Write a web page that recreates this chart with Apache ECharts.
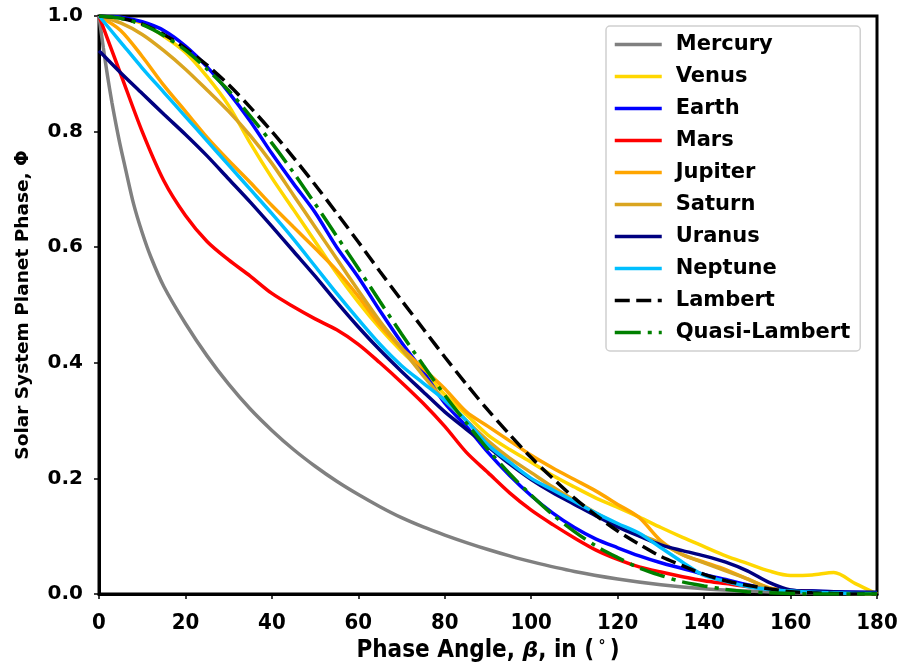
<!DOCTYPE html>
<html>
<head>
<meta charset="utf-8">
<script src="https://cdn.jsdelivr.net/npm/echarts@6/dist/echarts.min.js"></script>
<style>
  html, body { margin: 0; padding: 0; background: #fff; }
  #chart { width: 902px; height: 665px; }
</style>
</head>
<body>
<div id="chart"></div>
<script>
// Phase angle grid (degrees) shared by most curves
const angles = [0,5,10,15,20,25,30,35,40,45,50,55,60,65,70,75,80,85,90,95,100,105,110,115,120,125,130,135,140,145,150,155,160,165,170,175,180];

// Mercury drops steeply near zero, so it has its own finer grid
const mercuryAngles = [0,1,2,3,4,5,6,8,10,12,15,20,25,30,35,40,45,50,55,60,65,70,75,80,85,90,95,100,110,120,130,140,150,160,170,180];
const mercury = [1.0,0.945,0.895,0.85,0.81,0.773,0.74,0.675,0.625,0.583,0.532,0.468,0.412,0.363,0.32,0.283,0.25,0.221,0.195,0.172,0.151,0.132,0.116,0.102,0.089,0.077,0.066,0.056,0.039,0.026,0.016,0.009,0.005,0.002,0.001,0];

const venus   = [1.0,0.997,0.987,0.965,0.937,0.895,0.845,0.78,0.72,0.665,0.61,0.555,0.505,0.46,0.42,0.385,0.345,0.31,0.275,0.25,0.228,0.205,0.185,0.166,0.15,0.133,0.115,0.098,0.082,0.066,0.053,0.04,0.032,0.033,0.037,0.018,0];
const earth   = [1.0,0.998,0.99,0.975,0.948,0.912,0.868,0.818,0.762,0.71,0.66,0.60,0.548,0.49,0.435,0.385,0.33,0.29,0.245,0.205,0.17,0.14,0.115,0.095,0.08,0.066,0.054,0.044,0.034,0.025,0.016,0.009,0.006,0.005,0.004,0.003,0.002];
const mars    = [1.0,0.90,0.80,0.715,0.655,0.61,0.578,0.55,0.52,0.497,0.476,0.457,0.432,0.40,0.366,0.33,0.29,0.245,0.21,0.175,0.145,0.12,0.097,0.076,0.06,0.047,0.038,0.03,0.023,0.018,0.013,0.009,0.006,0.004,0.002,0.001,0];
const jupiter = [1.0,0.975,0.93,0.88,0.835,0.79,0.75,0.712,0.672,0.635,0.598,0.56,0.515,0.465,0.425,0.39,0.355,0.315,0.29,0.265,0.24,0.218,0.198,0.178,0.155,0.132,0.092,0.068,0.055,0.042,0.026,0.011,0.005,0.003,0.002,0.001,0];
const saturn  = [1.0,0.988,0.968,0.94,0.908,0.872,0.835,0.793,0.745,0.69,0.635,0.58,0.525,0.472,0.425,0.378,0.335,0.30,0.265,0.235,0.21,0.185,0.162,0.14,0.12,0.103,0.088,0.068,0.054,0.04,0.026,0.01,0.005,0.003,0.002,0.001,0];
const uranus  = [0.94,0.902,0.866,0.83,0.795,0.758,0.718,0.678,0.636,0.593,0.55,0.505,0.462,0.422,0.385,0.35,0.315,0.285,0.255,0.225,0.198,0.175,0.155,0.135,0.116,0.10,0.085,0.075,0.066,0.055,0.04,0.02,0.007,0.005,0.004,0.003,0.003];
const neptune = [1.0,0.955,0.91,0.868,0.826,0.784,0.742,0.70,0.658,0.614,0.567,0.52,0.475,0.432,0.395,0.365,0.335,0.30,0.258,0.228,0.20,0.18,0.16,0.14,0.122,0.105,0.08,0.055,0.032,0.022,0.013,0.008,0.005,0.003,0.002,0.001,0.001];
const lambert = [1.0,0.996,0.986,0.968,0.944,0.915,0.881,0.842,0.80,0.755,0.708,0.659,0.609,0.558,0.508,0.459,0.41,0.363,0.318,0.276,0.236,0.20,0.166,0.136,0.109,0.086,0.065,0.049,0.034,0.023,0.015,0.009,0.004,0.002,0.001,0,0];
const quasiLambert = [1.0,0.996,0.985,0.966,0.941,0.908,0.871,0.827,0.78,0.729,0.675,0.619,0.563,0.506,0.45,0.396,0.344,0.296,0.25,0.208,0.171,0.137,0.108,0.083,0.063,0.045,0.032,0.021,0.014,0.008,0.004,0.002,0.001,0,0,0,0];

const xTicks = [0,20,40,60,80,100,120,140,160,180];
const yTicks = [0.0,0.2,0.4,0.6,0.8,1.0];

const pair = (xs, ys) => xs.map((x, i) => [x, ys[i]]);

const curves = [
  { name: 'Mercury', x: mercuryAngles, y: mercury, color: '#808080' },
  { name: 'Venus', x: angles, y: venus, color: '#FFD700' },
  { name: 'Earth', x: angles, y: earth, color: '#0000FF' },
  { name: 'Mars', x: angles, y: mars, color: '#FF0000' },
  { name: 'Jupiter', x: angles, y: jupiter, color: '#FFA500' },
  { name: 'Saturn', x: angles, y: saturn, color: '#DAA520' },
  { name: 'Uranus', x: angles, y: uranus, color: '#000080' },
  { name: 'Neptune', x: angles, y: neptune, color: '#00BFFF' },
  { name: 'Lambert', x: angles, y: lambert, color: '#000000', dash: [15, 6.5] },
  { name: 'Quasi-Lambert', x: angles, y: quasiLambert, color: '#008000', dash: [26, 7, 4, 7] }
];

const sans = 'DejaVu Sans';
const cond = 'DejaVu Sans Condensed, DejaVu Sans';

const chart = echarts.init(document.getElementById('chart'), null, { renderer: 'canvas' });
chart.setOption({
  animation: false,
  backgroundColor: '#fff',
  grid: {
    left: 99, right: 25, top: 16, bottom: 71,
    outerBoundsMode: 'none',
    containLabel: false,
    show: true, borderColor: '#000', borderWidth: 3, backgroundColor: 'transparent'
  },
  xAxis: {
    type: 'value', min: 0, max: 180, interval: 20,
    name: '{t|Phase Angle, }{g|\u03B2}{t|, in (\u2009}{d|\u00B0}{t|\u2009)}',
    nameLocation: 'middle', nameGap: 44,
    nameTextStyle: {
      fontFamily: cond, fontWeight: 'bold', fontSize: 24, color: '#000',
      rich: {
        t: { fontFamily: cond, fontWeight: 'bold', fontSize: 24, color: '#000' },
        g: { fontFamily: sans, fontWeight: 'bold', fontStyle: 'italic', fontSize: 22, color: '#000' },
        d: { fontFamily: sans, fontSize: 14, color: '#000', verticalAlign: 'top', padding: [0, 0, 8, 0] }
      }
    },
    axisLine: { show: true, lineStyle: { color: '#000', width: 3 } },
    axisTick: { show: true, inside: false, length: 5, lineStyle: { color: '#000', width: 1.5 } },
    axisLabel: {
      color: '#000', fontFamily: cond, fontWeight: 'bold', fontSize: 22, margin: 18,
      formatter: v => (xTicks.includes(v) ? String(v) : '')
    },
    splitLine: { show: false }
  },
  yAxis: {
    type: 'value', min: 0, max: 1, interval: 0.2,
    name: 'Solar System Planet Phase, \u03A6',
    nameLocation: 'middle', nameGap: 66, nameRotate: 90,
    nameTextStyle: { fontFamily: sans, fontWeight: 'bold', fontSize: 18.5, color: '#000' },
    axisLine: { show: true, lineStyle: { color: '#000', width: 3 } },
    axisTick: { show: true, inside: false, length: 5, lineStyle: { color: '#000', width: 1.5 } },
    axisLabel: {
      color: '#000', fontFamily: sans, fontWeight: 'bold', fontSize: 20, margin: 16,
      formatter: v => yTicks.find(t => Math.abs(t - v) < 1e-9).toFixed(1)
    },
    splitLine: { show: false }
  },
  legend: {
    orient: 'vertical', left: 606, top: 26,
    backgroundColor: '#fff',
    borderColor: '#d0d0d0', borderWidth: 1.5, borderRadius: 4,
    padding: [8, 10, 8, 7],
    itemWidth: 47, itemHeight: 14, itemGap: 11,
    itemStyle: { opacity: 0 },
    lineStyle: { width: 3.5 },
    textStyle: { fontFamily: sans, fontWeight: 'bold', fontSize: 21, color: '#000', padding: [0, 0, 0, 9], lineHeight: 21 },
    data: curves.map(c => c.name)
  },
  series: curves.map(c => ({
    name: c.name,
    type: 'line',
    data: pair(c.x, c.y),
    smooth: 0.3,
    symbol: 'none',
    color: c.color,
    lineStyle: { color: c.color, width: 3.5, type: c.dash ? c.dash : 'solid', cap: 'butt' }
  }))
});
</script>
</body>
</html>
